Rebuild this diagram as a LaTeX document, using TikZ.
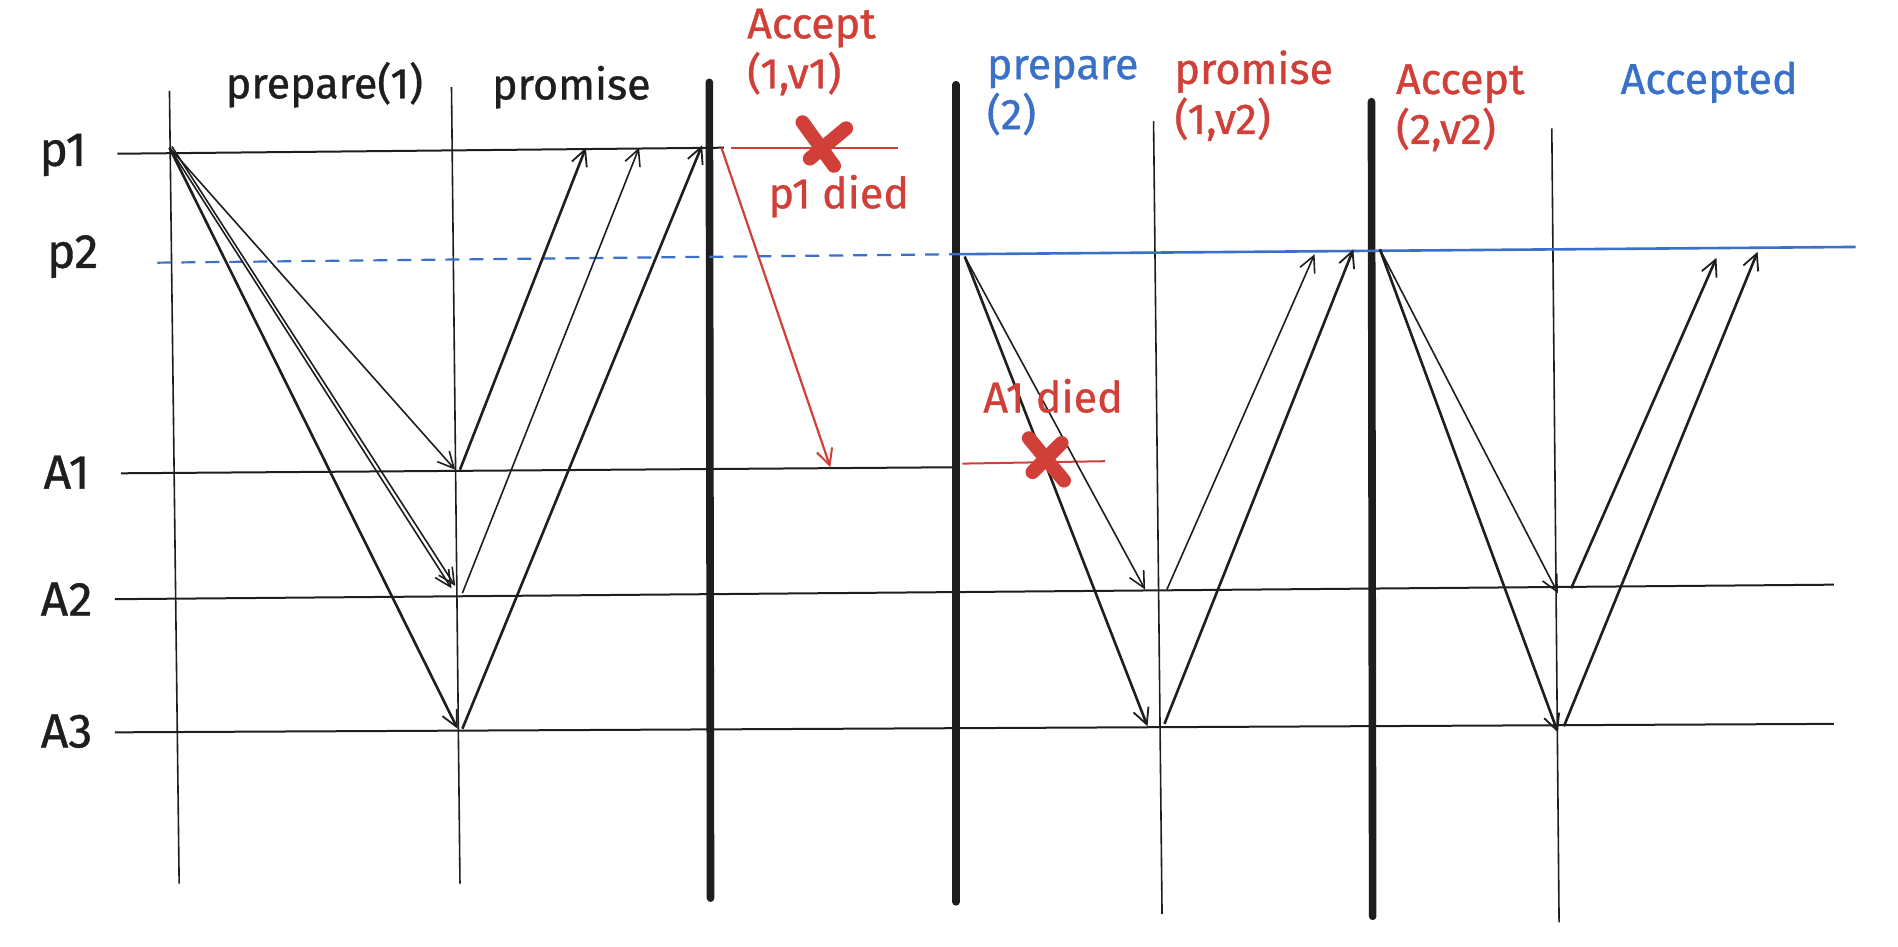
\documentclass[tikz,border=0pt]{standalone}
\usepackage{fontspec}
\setmainfont{Fira Sans}
\newfontfamily\handfont[FakeBold=0.8]{Fira Sans}
\usetikzlibrary{arrows.meta}
\definecolor{exred}{RGB}{208,64,56}
\definecolor{exblue}{RGB}{58,112,200}
\definecolor{ink}{RGB}{30,30,30}
\begin{document}
\begin{tikzpicture}[x=0.6053pt,y=-0.6053pt,
  thinline/.style={line width=0.8pt, draw=ink},
  bar/.style={line width=3.8pt, draw=ink, line cap=round},
  msg/.style={line width=0.8pt, draw=ink, -{Straight Barb[length=8pt,width=8pt,line width=0.8pt]}},
  msgb/.style={line width=1.3pt, draw=ink, -{Straight Barb[length=8pt,width=8pt,line width=0.9pt]}},
  redmsg/.style={line width=1.1pt, draw=exred, -{Straight Barb[length=8pt,width=8pt,line width=1pt]}},
  redline/.style={line width=1pt, draw=exred},
  cross/.style={line width=7pt, draw=exred, line cap=round},
  lbl/.style={font=\handfont\fontsize{21.5}{25}\selectfont, inner sep=0pt, align=left},
  rowlbl/.style={font=\handfont\fontsize{24}{26}\selectfont, inner sep=0pt, text=ink}]
\useasboundingbox[fill=white] (0,0) rectangle (1568,782);

% vertical lines
\draw[thinline] (140,75) coordinate (v1t) -- (148,730) coordinate (v1b);
\draw[thinline] (373,72) coordinate (v2t) -- (380,730) coordinate (v2b);
\draw[bar] (586,68) coordinate (v3t) -- (587,742) coordinate (v3b);
\draw[bar] (790,70) coordinate (v4t) -- (790,745) coordinate (v4b);
\draw[thinline] (953,100) coordinate (v5t) -- (960,755) coordinate (v5b);
\draw[bar] (1133,84) coordinate (v6t) -- (1134,757) coordinate (v6b);
\draw[thinline] (1282,106) coordinate (v7t) -- (1288,762) coordinate (v7b);

% horizontal lines
\draw[thinline, line width=1pt] (97,127) coordinate (p1L) -- (598,122) coordinate (p1R);
\draw[redline] (604,122) coordinate (p1dL) -- (742,122) coordinate (p1dR);
\draw[exblue, line width=1.1pt, dash pattern=on 7pt off 5pt] (130,217) coordinate (p2L) -- (790,210) coordinate (p2M);
\draw[exblue, line width=1.3pt] (p2M) -- (1533,204) coordinate (p2R);
\draw[thinline, line width=1pt] (100,391) coordinate (a1L) -- (790,386) coordinate (a1R);
\draw[redline] (795,383) coordinate (a1dL) -- (913,381) coordinate (a1dR);
\draw[thinline, line width=1pt] (95,495) coordinate (a2L) -- (1515,483) coordinate (a2R);
\draw[thinline, line width=1pt] (95,605) coordinate (a3L) -- (1515,598) coordinate (a3R);

% phase 1: prepare(1)
\coordinate (s1) at (140,122);
\draw[msg] (s1) -- (376,388) coordinate (e11);
\draw[msg] (s1) -- (373,486) coordinate (e12);
\draw[msg] (142,121) coordinate (s1b) -- (376,484) coordinate (e12b);
\draw[msgb] (s1) -- (378,602) coordinate (e13);
% promise
\draw[msgb] (380,388) coordinate (r11) -- (484,122) coordinate (q11);
\draw[msg] (382,490) coordinate (r12) -- (528,122) coordinate (q12);
\draw[msgb] (382,602) coordinate (r13) -- (580,120) coordinate (q13);
% accept (1,v1) lost
\draw[redmsg] (596,122) coordinate (s1r) -- (686,386) coordinate (e1r);

% phase 2: prepare(2)
\coordinate (s2) at (797,212);
\draw[msg] (s2) -- (946,487) coordinate (e22);
\draw[msgb] (s2) -- (948,600) coordinate (e23);
\draw[msg] (964,487) coordinate (r22) -- (1086,210) coordinate (q22);
\draw[msgb] (962,598) coordinate (r23) -- (1118,206) coordinate (q23);

% phase 3: accept(2,v2)
\coordinate (s3) at (1140,206);
\draw[msg] (s3) -- (1287,490) coordinate (e32);
\draw[msgb] (s3) -- (1287,605) coordinate (e33);
\draw[msgb] (1298,486) coordinate (r32) -- (1418,213) coordinate (q32);
\draw[msgb] (1292,600) coordinate (r33) -- (1452,208) coordinate (q33);

% crosses
\draw[cross] (663,101) coordinate (x1a) -- (689,137) coordinate (x1b);
\draw[cross] (699,106) coordinate (x1c) -- (669,131) coordinate (x1d);
\draw[cross] (850,362) coordinate (x2a) -- (879,397) coordinate (x2b);
\draw[cross] (877,366) coordinate (x2c) -- (853,390) coordinate (x2d);

% row labels
\node[rowlbl] (lp1) at (52,128) {p1};
\node[rowlbl] (lp2) at (60,212) {p2};
\node[rowlbl] (la1) at (55,390) {A1};
\node[rowlbl] (la2) at (55,495) {A2};
\node[rowlbl] (la3) at (55,604) {A3};

% headers
\node[lbl, text=ink] (h1) at (268,70) {prepare(1)};
\node[lbl, text=ink] (h2) at (472,72) {promise};
\node[lbl, text=exred, anchor=west] (h3) at (617,43) {Accept\\(1,v1)};
\node[lbl, text=exred] (d1) at (693,162) {p1 died};
\node[lbl, text=exblue, anchor=west] (h4) at (815,79) {prepare\\(2)};
\node[lbl, text=exred, anchor=west] (h5) at (970,79) {promise\\(1,v2)};
\node[lbl, text=exred, anchor=west] (h6) at (1153,89) {Accept\\(2,v2)};
\node[lbl, text=exblue] (h7) at (1412,68) {Accepted};
\node[lbl, text=exred] (d2) at (870,327) {A1 died};
\end{tikzpicture}
\end{document}
